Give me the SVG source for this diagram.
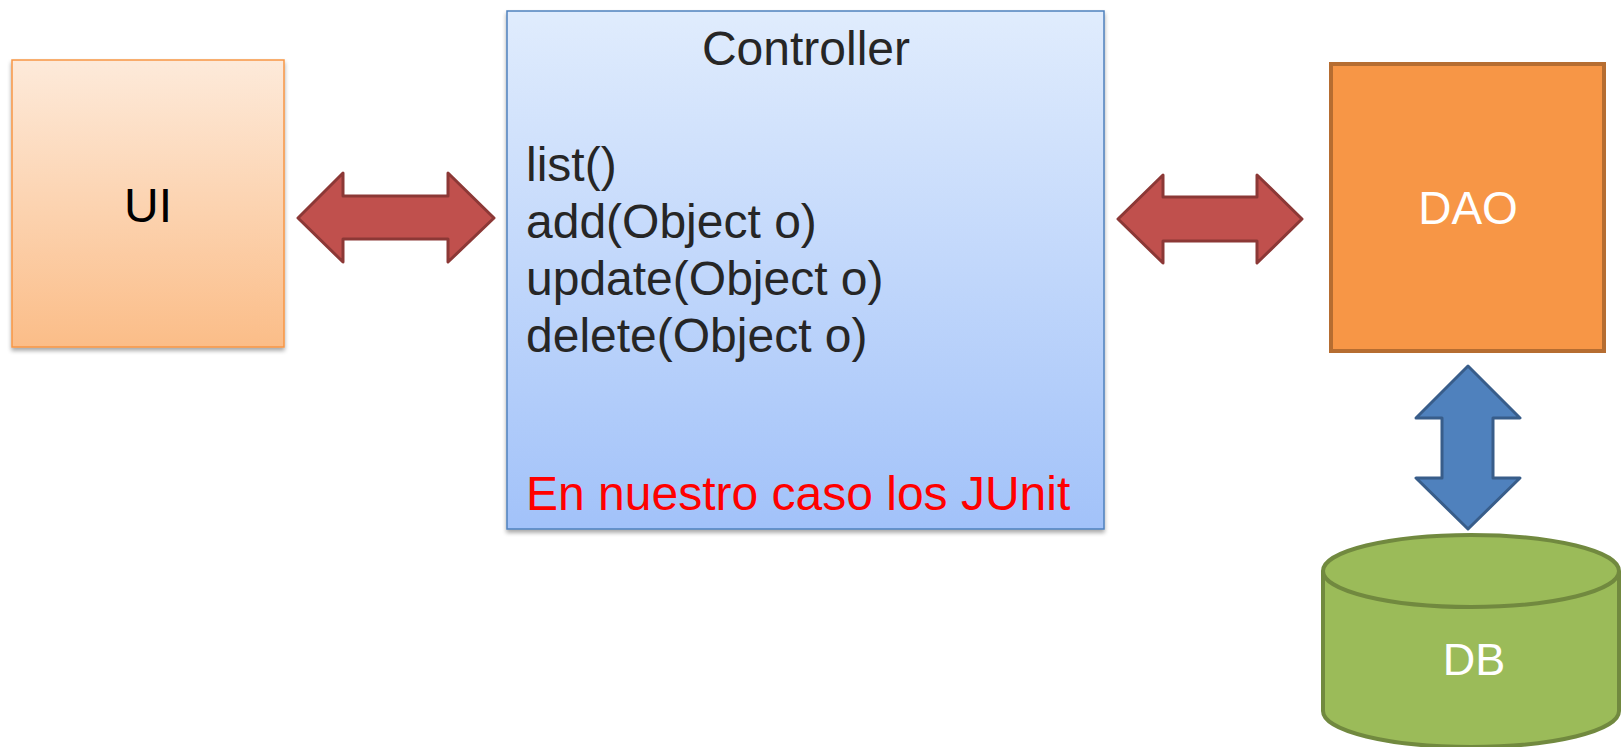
<svg xmlns="http://www.w3.org/2000/svg" width="1621" height="747" viewBox="0 0 1621 747">
<defs>
<linearGradient id="gUI" x1="0" y1="0" x2="0" y2="1"><stop offset="0" stop-color="#FDEADA"/><stop offset="1" stop-color="#FBBD88"/></linearGradient>
<linearGradient id="gC" x1="0" y1="0" x2="0" y2="1"><stop offset="0" stop-color="#E0ECFD"/><stop offset="1" stop-color="#A2C2F9"/></linearGradient>
<filter id="sh" x="-10%" y="-10%" width="120%" height="120%"><feGaussianBlur in="SourceAlpha" stdDeviation="2"/><feOffset dx="0" dy="3"/><feComponentTransfer><feFuncA type="linear" slope="0.35"/></feComponentTransfer><feMerge><feMergeNode/><feMergeNode in="SourceGraphic"/></feMerge></filter>
<style>
text{font-family:"Liberation Sans",Arial,sans-serif;font-size:48px}
.red{fill:#C0504D;stroke:#8C3836;stroke-width:3;stroke-linejoin:round}
.blue{fill:#4F81BD;stroke:#385D8A;stroke-width:3;stroke-linejoin:round}
.m{fill:#262626}
</style>
</defs>
<rect width="1621" height="747" fill="#FFFFFF"/>
<g id="ui">
<rect x="12" y="60" width="272" height="287" fill="url(#gUI)" stroke="#F79646" stroke-width="1.5" filter="url(#sh)"/>
<text x="148" y="222" text-anchor="middle" fill="#000">UI</text>
</g>
<g id="controller">
<rect x="507" y="11" width="597" height="518" fill="url(#gC)" stroke="#4F81BD" stroke-width="1.5" filter="url(#sh)"/>
<text x="806" y="65" text-anchor="middle" class="m">Controller</text>
<text x="526" y="181" class="m">list()</text>
<text x="526" y="238" class="m">add(Object o)</text>
<text x="526" y="295" class="m">update(Object o)</text>
<text x="526" y="352" class="m">delete(Object o)</text>
<text x="526" y="510" fill="#FF0000">En nuestro caso los JUnit</text>
</g>
<g id="dao">
<rect x="1331" y="64" width="273" height="287" fill="#F79646" stroke="#B66D31" stroke-width="4"/>
<text x="1468" y="224" text-anchor="middle" fill="#FFFFFF" style="font-size:46px">DAO</text>
</g>
<g id="db">
<path d="M1323,571 L1323,711 A148,36 0 0 0 1619,711 L1619,571" fill="#9BBB59" stroke="#71893F" stroke-width="4"/>
<ellipse cx="1471" cy="571" rx="148" ry="36" fill="#9BBB59" stroke="#71893F" stroke-width="4"/>
<text x="1474" y="675" text-anchor="middle" fill="#FFFFFF" style="font-size:45px">DB</text>
</g>
<g id="connectors">
<polygon class="red" points="298,218 343,173 343,196 448,196 448,173 494,218 448,262 448,239 343,239 343,262"/>
<polygon class="red" points="1118,219 1163,175 1163,197 1257,197 1257,175 1302,219 1257,263 1257,241 1163,241 1163,263"/>
<polygon class="blue" points="1468,366 1520,418 1493,418 1493,478 1520,478 1468,529 1416,478 1442,478 1442,418 1416,418"/>
</g>
</svg>
